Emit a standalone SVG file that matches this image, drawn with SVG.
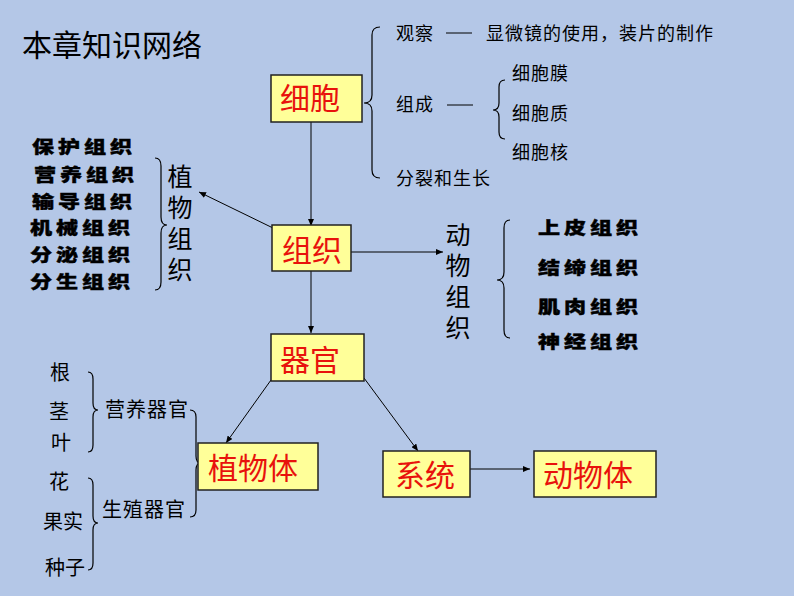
<svg xmlns="http://www.w3.org/2000/svg" width="794" height="596" viewBox="0 0 794 596">
<style>
.t{font-family:"Noto Sans CJK SC","Liberation Sans",sans-serif;fill:#000}
.s{font-size:18px;letter-spacing:1px}
.b{font-size:17px;font-weight:900;letter-spacing:3px;stroke:#000;stroke-width:0.4}
.v{font-size:25px;writing-mode:vertical-rl;letter-spacing:6px}
.l{font-size:20px;letter-spacing:1px}
.lc{font-size:20px;text-anchor:middle}
.box{fill:#FFFF99;stroke:#222;stroke-width:1.5}
.bt{font-family:"Noto Sans CJK SC","Liberation Sans",sans-serif;font-size:30px;fill:#E8120C}
.br{fill:none;stroke:#000;stroke-width:1.2}
.c{fill:none;stroke:#000;stroke-width:1}
</style>
<defs>
<marker id="ah" markerUnits="userSpaceOnUse" markerWidth="8" markerHeight="6" refX="7" refY="3" orient="auto">
<path d="M0,0 L7,3 L0,6 Z" fill="#000"/>
</marker>
</defs>
<rect x="0" y="0" width="794" height="596" fill="#B4C7E7"/>
<text class="t" x="22" y="56" font-size="30">本章知识网络</text>

<g id="connectors">
<line class="c" x1="311" y1="122" x2="311" y2="226" marker-end="url(#ah)"/>
<line class="c" x1="273" y1="228" x2="199" y2="192" marker-end="url(#ah)"/>
<line class="c" x1="351" y1="252" x2="443" y2="252" marker-end="url(#ah)"/>
<line class="c" x1="311" y1="271" x2="311" y2="333" marker-end="url(#ah)"/>
<line class="c" x1="271" y1="380" x2="226" y2="443" marker-end="url(#ah)"/>
<line class="c" x1="364" y1="378" x2="418" y2="451" marker-end="url(#ah)"/>
<line class="c" x1="470" y1="469" x2="530" y2="469" marker-end="url(#ah)"/>
</g>

<g id="cell">
<rect class="box" x="271" y="75" width="91" height="47"/>
<text class="bt" x="280" y="109">细胞</text>
</g>
<g id="cell-branches">
<path class="br" d="M380,27 Q372,27 372,35 L372,95 Q372,103 364,103 Q372,103 372,111 L372,170 Q372,178 380,178"/>
<text class="t s" x="396" y="40">观察</text>
<line class="c" x1="446" y1="33" x2="472" y2="33"/>
<text class="t s" x="486" y="40">显微镜的使用，装片的制作</text>
<text class="t s" x="396" y="111">组成</text>
<line class="c" x1="447" y1="105" x2="473" y2="105"/>
<path class="br" d="M505,80 Q499,80 499,87 L499,103 Q499,110 493,110 Q499,110 499,117 L499,132 Q499,139 505,139"/>
<text class="t s" x="512" y="80">细胞膜</text>
<text class="t s" x="512" y="120">细胞质</text>
<text class="t s" x="512" y="159">细胞核</text>
<text class="t s" x="396" y="185">分裂和生长</text>
</g>

<g id="tissue">
<rect class="box" x="272" y="225" width="79" height="46"/>
<text class="bt" x="282" y="261">组织</text>
</g>

<g id="plant-tissue">
<text class="t b" transform="translate(32,153) scale(1.3,1)">保护组织</text>
<text class="t b" transform="translate(34,181) scale(1.3,1)">营养组织</text>
<text class="t b" transform="translate(32,208) scale(1.3,1)">输导组织</text>
<text class="t b" transform="translate(30,234) scale(1.3,1)">机械组织</text>
<text class="t b" transform="translate(30,261) scale(1.3,1)">分泌组织</text>
<text class="t b" transform="translate(30,288) scale(1.3,1)">分生组织</text>
<path class="br" d="M155,158 Q161,158 161,166 L161,217 Q161,225 167,225 Q161,225 161,233 L161,282 Q161,290 155,290"/>
<text class="t v" x="180" y="164">植物组织</text>
</g>

<g id="animal-tissue">
<text class="t v" x="458" y="222">动物组织</text>
<path class="br" d="M510,220 Q504,220 504,228 L504,272 Q504,280 497,280 Q504,280 504,288 L504,330 Q504,338 510,338"/>
<text class="t b" transform="translate(538,234) scale(1.3,1)">上皮组织</text>
<text class="t b" transform="translate(538,274) scale(1.3,1)">结缔组织</text>
<text class="t b" transform="translate(538,313) scale(1.3,1)">肌肉组织</text>
<text class="t b" transform="translate(538,348) scale(1.3,1)">神经组织</text>
</g>

<g id="organ">
<rect class="box" x="271" y="334" width="93" height="47"/>
<text class="bt" x="280" y="371">器官</text>
</g>

<g id="plant-organs">
<text class="t lc" x="60" y="380">根</text>
<text class="t lc" x="59" y="419">茎</text>
<text class="t lc" x="61" y="450">叶</text>
<text class="t lc" x="59" y="489">花</text>
<text class="t lc" x="63" y="529">果实</text>
<text class="t lc" x="65" y="575">种子</text>
<path class="br" d="M88,372 Q93,372 93,379 L93,403 Q93,410 98,410 Q93,410 93,417 L93,445 Q93,452 88,452"/>
<path class="br" d="M88,478 Q93,478 93,485 L93,516 Q93,523 98,523 Q93,523 93,530 L93,563 Q93,570 88,570"/>
<text class="t l" x="105" y="417">营养器官</text>
<text class="t l" x="102" y="517">生殖器官</text>
<path class="br" d="M190,410 Q196,410 196,417 L196,456 Q196,463 201,463 Q196,463 196,470 L196,510 Q196,517 190,517"/>
</g>

<g id="plant-body">
<rect class="box" x="198" y="443" width="120" height="47"/>
<text class="bt" x="208" y="479">植物体</text>
</g>

<g id="system">
<rect class="box" x="383" y="451" width="87" height="46"/>
<text class="bt" x="395" y="486">系统</text>
</g>

<g id="animal-body">
<rect class="box" x="534" y="451" width="122" height="46"/>
<text class="bt" x="543" y="486">动物体</text>
</g>
</svg>
